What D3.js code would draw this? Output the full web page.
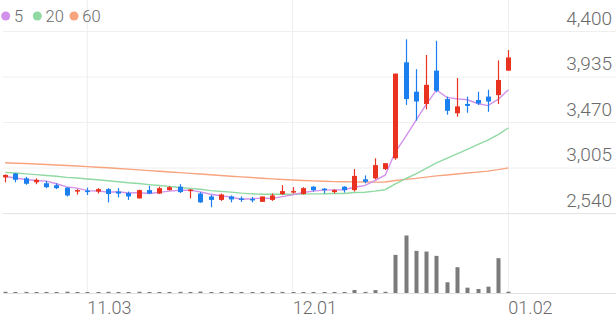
<!DOCTYPE html>
<html>
<head>
<meta charset="utf-8">
<script src="https://cdn.jsdelivr.net/npm/d3@7"></script>
<style>
  html, body { margin: 0; padding: 0; background: #fff; }
</style>
</head>
<body>
<div id="chart"></div>
<script>
// Trading days (MM.DD).
const dates = [
  "10.22", "10.23", "10.24", "10.27", "10.28", "10.29", "10.30", "10.31",
  "11.03", "11.04", "11.05", "11.06", "11.07", "11.10", "11.11", "11.12", "11.13", "11.14",
  "11.17", "11.18", "11.19", "11.20", "11.21", "11.24", "11.25", "11.26", "11.27", "11.28",
  "12.01", "12.02", "12.03", "12.04", "12.05", "12.08", "12.09", "12.10", "12.11", "12.12",
  "12.15", "12.16", "12.17", "12.18", "12.19", "12.22", "12.23", "12.24", "12.26", "12.29", "12.30",
  "01.02",
];

// Daily OHLC prices.
const open = [
  2910, 2950, 2900, 2860, 2850, 2830, 2805, 2770, 2775, 2765,
  2790, 2765, 2750, 2695, 2780, 2745, 2780, 2815, 2770, 2745,
  2715, 2680, 2715, 2695, 2690, 2660, 2680, 2740, 2755, 2740,
  2815, 2795, 2760, 2815, 2780, 2890, 2900, 2995, 3105, 4085,
  3785, 3660, 4000, 3710, 3565, 3660, 3700, 3735, 3750, 4000,
];
const high = [
  2940, 2955, 2915, 2900, 2875, 2850, 2810, 2790, 2805, 2800,
  2800, 2800, 2765, 2785, 2825, 2815, 2820, 2840, 2790, 2760,
  2730, 2745, 2725, 2715, 2710, 2715, 2745, 2830, 2810, 2810,
  2820, 2800, 2790, 2820, 2995, 2930, 3105, 3055, 3970, 4320,
  4015, 4160, 4305, 3735, 3925, 3735, 3785, 3805, 4105, 4210,
];
const low = [
  2860, 2860, 2835, 2840, 2800, 2790, 2715, 2735, 2730, 2745,
  2655, 2705, 2680, 2695, 2740, 2740, 2775, 2750, 2695, 2650,
  2605, 2670, 2655, 2660, 2655, 2660, 2670, 2730, 2745, 2735,
  2765, 2745, 2745, 2755, 2765, 2850, 2890, 2985, 3090, 3650,
  3490, 3605, 3780, 3550, 3530, 3570, 3650, 3580, 3660, 4000,
];
const close = [
  2935, 2885, 2845, 2885, 2810, 2800, 2725, 2780, 2760, 2790,
  2740, 2745, 2715, 2780, 2745, 2800, 2810, 2760, 2785, 2655,
  2680, 2735, 2685, 2680, 2675, 2715, 2725, 2770, 2770, 2800,
  2780, 2780, 2780, 2780, 2925, 2865, 3035, 3055, 3970, 3710,
  3685, 3855, 3795, 3590, 3635, 3640, 3665, 3685, 3905, 4135,
];

// Daily volume (shares).
const volume = [
  120000, 95000, 110000, 80000, 105000, 90000, 130000, 70000, 100000, 85000,
  115000, 90000, 75000, 120000, 95000, 85000, 70000, 110000, 90000, 140000,
  100000, 80000, 75000, 90000, 70000, 85000, 95000, 110000, 80000, 90000,
  75000, 70000, 85000, 80000, 300000, 110000, 290000, 120000, 3800000, 5730000,
  4200000, 4130000, 3700000, 1070000, 2570000, 530000, 400000, 630000, 3470000, 130000,
];

// Moving averages (5, 20, 60 days).
const ma5 = [
  2919, 2904, 2889, 2878, 2872, 2845, 2813, 2800, 2775, 2771,
  2759, 2763, 2750, 2754, 2745, 2757, 2770, 2779, 2780, 2762,
  2738, 2723, 2708, 2687, 2691, 2698, 2696, 2713, 2731, 2756,
  2769, 2780, 2782, 2784, 2809, 2826, 2877, 2932, 3170, 3327,
  3491, 3655, 3803, 3727, 3712, 3703, 3665, 3643, 3706, 3806,
];
const ma20 = [
  2961, 2955, 2946, 2938, 2929, 2921, 2910, 2903, 2894, 2886,
  2876, 2866, 2855, 2847, 2836, 2827, 2818, 2806, 2798, 2788,
  2775, 2767, 2759, 2749, 2742, 2738, 2738, 2738, 2738, 2739,
  2741, 2742, 2746, 2746, 2755, 2758, 2769, 2784, 2843, 2896,
  2946, 3002, 3058, 3103, 3151, 3197, 3244, 3290, 3347, 3414,
];
const ma60 = [
  3059, 3055, 3051, 3047, 3042, 3037, 3032, 3026, 3020, 3014,
  3008, 3001, 2994, 2987, 2979, 2972, 2965, 2958, 2951, 2944,
  2937, 2929, 2922, 2915, 2908, 2901, 2895, 2889, 2883, 2878,
  2874, 2870, 2867, 2865, 2864, 2863, 2862, 2863, 2878, 2890,
  2900, 2913, 2925, 2934, 2945, 2954, 2964, 2974, 2989, 3007,
];

// Axis ticks.
const priceTicks = [2540, 3005, 3470, 3935, 4400];
const dateTicks = ["11.03", "12.01", "01.02"];

// Legend.
const legendLabels = ["5", "20", "60"];
const maColors = ["#d291ea", "#90d9a2", "#f8a47f"];

/**
 * SVG container.
 */
const width = 616;
const height = 321;

const svg = d3
  .select("#chart")
  .append("svg")
  .attr("width", width)
  .attr("height", height)
  .attr("font-family", "Roboto");

/**
 * Scales.
 */
const x = d3.scaleBand().domain(dates).range([0, 513.5]);
const cx = (d) => x(d) + x.bandwidth() / 2;

const y = d3.scaleLinear().domain([2540, 4400]).range([213.6, 31.5]);

const yVol = d3
  .scaleLinear()
  .domain([0, d3.max(volume)])
  .range([293, 235.5]);

/**
 * Grid.
 */
// Vertical lines at the labelled dates.
svg
  .selectAll(".vgrid")
  .data(dateTicks)
  .join("line")
  .attr("class", "vgrid")
  .attr("x1", (d) => cx(d))
  .attr("x2", (d) => cx(d))
  .attr("y1", 0)
  .attr("y2", 294)
  .attr("stroke", "#ededed");

// Horizontal price lines.
svg
  .selectAll(".hgrid")
  .data(priceTicks)
  .join("line")
  .attr("class", "hgrid")
  .attr("x1", 3)
  .attr("x2", width)
  .attr("y1", (d) => y(d))
  .attr("y2", (d) => y(d))
  .attr("stroke", (d) => (d === priceTicks[0] ? "#e3e3e3" : "#efefef"));

// Volume baseline.
svg
  .append("line")
  .attr("x1", 3)
  .attr("x2", width)
  .attr("y1", 293.5)
  .attr("y2", 293.5)
  .attr("stroke", "#e0e0e0");

/**
 * Moving average lines.
 */
const line = d3
  .line()
  .x((d, i) => cx(dates[i]))
  .y((d) => y(d));

svg
  .selectAll(".ma")
  .data([ma60, ma20, ma5])
  .join("path")
  .attr("class", "ma")
  .attr("d", line)
  .attr("fill", "none")
  .attr("stroke", (d, i) => maColors[2 - i])
  .attr("stroke-width", 1.4);

/**
 * Candles.
 */
const candles = dates.map((d, i) => ({
  date: d,
  o: open[i],
  h: high[i],
  l: low[i],
  c: close[i],
  v: volume[i],
}));
const upColor = "#ea3220";
const downColor = "#1b7ff0";
const colorOf = (d) => (d.c >= d.o ? upColor : downColor);

// Wicks.
svg
  .selectAll(".wick")
  .data(candles)
  .join("line")
  .attr("class", "wick")
  .attr("x1", (d) => Math.round(cx(d.date)) + 0.5)
  .attr("x2", (d) => Math.round(cx(d.date)) + 0.5)
  .attr("y1", (d) => y(d.h))
  .attr("y2", (d) => y(d.l))
  .attr("stroke", colorOf)
  .attr("stroke-width", 1.2);

// Bodies.
const bodyWidth = 5;
svg
  .selectAll(".body")
  .data(candles)
  .join("rect")
  .attr("class", "body")
  .attr("x", (d) => Math.round(cx(d.date)) + 0.5 - bodyWidth / 2)
  .attr("width", bodyWidth)
  .attr("y", (d) => y(Math.max(d.o, d.c)))
  .attr("height", (d) => Math.max(1.5, Math.abs(y(d.o) - y(d.c))))
  .attr("fill", colorOf);

/**
 * Volume bars.
 */
const barWidth = 4;
svg
  .selectAll(".vol")
  .data(candles)
  .join("rect")
  .attr("class", "vol")
  .attr("x", (d) => Math.round(cx(d.date)) + 0.5 - barWidth / 2)
  .attr("width", barWidth)
  .attr("y", (d) => Math.min(yVol(d.v), 292))
  .attr("height", (d) => Math.max(1, yVol(0) - yVol(d.v)))
  .attr("fill", "#7b7b7b");

/**
 * Axis labels.
 */
const fmt = d3.format(",");

svg
  .selectAll(".ylabel")
  .data(priceTicks)
  .join("text")
  .attr("class", "ylabel")
  .attr("x", 612)
  .attr("y", (d) => y(d) - 7)
  .attr("text-anchor", "end")
  .attr("font-size", 19)
  .attr("font-weight", 300)
  .attr("fill", "#6a6a6a")
  .text((d) => fmt(d));

svg
  .selectAll(".xlabel")
  .data(dateTicks)
  .join("text")
  .attr("class", "xlabel")
  .attr("x", (d) => cx(d))
  .attr("y", 314)
  .attr("font-size", 18)
  .attr("font-weight", 300)
  .attr("fill", "#6a6a6a")
  .text((d) => d);

/**
 * Legend.
 */
const legendX = [5.7, 37.3, 74];
const legend = svg
  .selectAll(".legend")
  .data(legendLabels)
  .join("g")
  .attr("class", "legend")
  .attr("transform", (d, i) => `translate(${legendX[i]},16)`);

legend
  .append("circle")
  .attr("r", 4.5)
  .attr("fill", (d, i) => maColors[i]);

legend
  .append("text")
  .attr("x", 8.3)
  .attr("y", 5.8)
  .attr("font-size", 16.5)
  .attr("font-weight", 300)
  .attr("fill", "#6a6a6a")
  .text((d) => d);
</script>
</body>
</html>
